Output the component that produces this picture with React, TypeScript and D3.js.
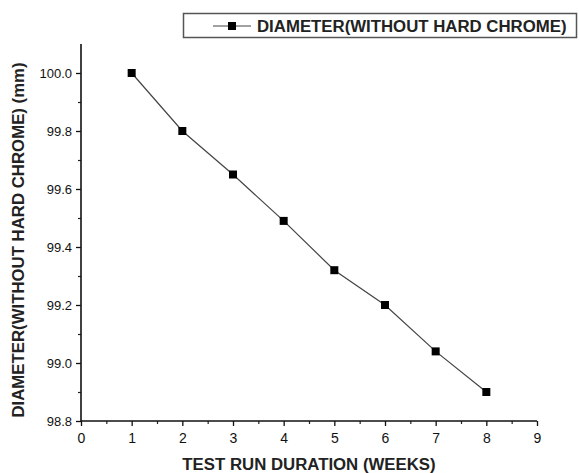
import * as d3 from "d3";
import { useEffect, useRef } from "react";

// data
const weeks = [1, 2, 3, 4, 5, 6, 7, 8];
const diameters = [100.0, 99.8, 99.65, 99.49, 99.32, 99.2, 99.04, 98.9];
const xTicks = [0, 1, 2, 3, 4, 5, 6, 7, 8, 9];
const yTicks = [98.8, 99.0, 99.2, 99.4, 99.6, 99.8, 100.0];
const seriesName = "DIAMETER(WITHOUT HARD CHROME)";
const xTitle = "TEST RUN DURATION (WEEKS)";
const yTitle = "DIAMETER(WITHOUT HARD CHROME) (mm)";

const W = 579;
const H = 473;
const FONT = "'Liberation Sans', Arial, sans-serif";

export default function App() {
  const ref = useRef<SVGSVGElement>(null);

  useEffect(() => {
    const svg = d3.select(ref.current);
    svg.selectAll("*").remove();

    const x = d3.scaleLinear().domain([0, 9]).range([81, 537]);
    const y = d3.scaleLinear().domain([98.8, 100.1]).range([421, 44]);

    // minor ticks (no labels)
    const xMinor = d3.range(0.5, 9, 1);
    const yMinor = d3.range(98.9, 100.1, 0.2);

    svg.append("g")
      .attr("transform", `translate(0,${y(98.8)})`)
      .call(d3.axisBottom(x).tickValues(xMinor).tickSize(3).tickFormat(() => ""))
      .call(g => g.select(".domain").remove())
      .selectAll("line").attr("stroke", "#222").attr("stroke-width", 1.2);

    svg.append("g")
      .attr("transform", `translate(${x(0)},0)`)
      .call(d3.axisLeft(y).tickValues(yMinor).tickSize(3).tickFormat(() => ""))
      .call(g => g.select(".domain").remove())
      .selectAll("line").attr("stroke", "#222").attr("stroke-width", 1.2);

    const xAxis = svg.append("g")
      .attr("transform", `translate(0,${y(98.8)})`)
      .call(d3.axisBottom(x).tickValues(xTicks).tickSize(5).tickSizeOuter(0).tickPadding(7).tickFormat(d3.format("d")));
    xAxis.select(".domain").attr("stroke", "#111").attr("stroke-width", 1.6)
      .attr("d", `M${x(0)},0H${x(9)}`);
    xAxis.selectAll("line").attr("stroke", "#111").attr("stroke-width", 1.3);
    xAxis.selectAll("text").attr("font-family", FONT).attr("font-size", 14).attr("fill", "#111");

    const yAxis = svg.append("g")
      .attr("transform", `translate(${x(0)},0)`)
      .call(d3.axisLeft(y).tickValues(yTicks).tickSize(5).tickSizeOuter(0).tickPadding(4).tickFormat(d3.format(".1f")));
    yAxis.select(".domain").attr("stroke", "#111").attr("stroke-width", 1.6)
      .attr("d", `M0,${y(98.8)}V${y(100.1)}`);
    yAxis.selectAll("line").attr("stroke", "#111").attr("stroke-width", 1.3);
    yAxis.selectAll("text").attr("font-family", FONT).attr("font-size", 13).attr("fill", "#111");

    // series line + markers
    const pts = weeks.map((w, i) => [w, diameters[i]] as [number, number]);
    const line = d3.line<[number, number]>().x(d => x(d[0])).y(d => y(d[1]));
    svg.append("path")
      .datum(pts)
      .attr("d", line)
      .attr("fill", "none")
      .attr("stroke", "#444")
      .attr("stroke-width", 1.2);

    svg.selectAll("rect.pt")
      .data(pts)
      .enter()
      .append("rect")
      .attr("class", "pt")
      .attr("x", d => x(d[0]) - 4)
      .attr("y", d => y(d[1]) - 4)
      .attr("width", 8)
      .attr("height", 8)
      .attr("fill", "#000");

    // axis titles
    svg.append("text")
      .attr("x", 309)
      .attr("y", 470)
      .attr("text-anchor", "middle")
      .attr("font-family", FONT)
      .attr("font-weight", "bold")
      .attr("font-size", 16.8)
      .attr("fill", "#222")
      .text(xTitle);

    svg.append("text")
      .attr("transform", "translate(24,240) rotate(-90)")
      .attr("text-anchor", "middle")
      .attr("font-family", FONT)
      .attr("font-weight", "bold")
      .attr("font-size", 16.8)
      .attr("fill", "#222")
      .text(yTitle);

    // legend
    const lg = svg.append("g");
    lg.append("rect")
      .attr("x", 183.5)
      .attr("y", 13.5)
      .attr("width", 393)
      .attr("height", 24)
      .attr("fill", "#fff")
      .attr("stroke", "#555")
      .attr("stroke-width", 1.5);
    lg.append("line")
      .attr("x1", 213).attr("x2", 251)
      .attr("y1", 26).attr("y2", 26)
      .attr("stroke", "#444").attr("stroke-width", 1.2);
    lg.append("rect")
      .attr("x", 228).attr("y", 22)
      .attr("width", 8).attr("height", 8)
      .attr("fill", "#000");
    lg.append("text")
      .attr("x", 257)
      .attr("y", 32)
      .attr("font-family", FONT)
      .attr("font-weight", "bold")
      .attr("font-size", 16.8)
      .attr("fill", "#222")
      .text(seriesName);
  }, []);

  return (
    <svg
      ref={ref}
      width={W}
      height={H}
      style={{ position: "absolute", left: 0, top: 0, background: "#fff" }}
    />
  );
}
